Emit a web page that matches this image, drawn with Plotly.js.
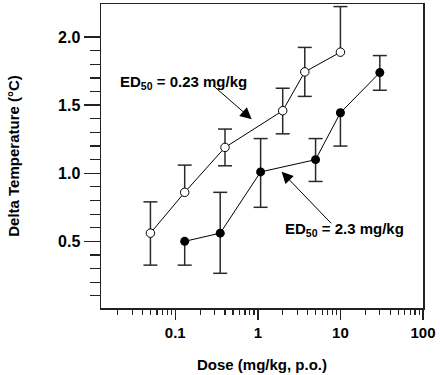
<!DOCTYPE html>
<html>
<head>
<meta charset="utf-8">
<script src="https://cdn.plot.ly/plotly-3.0.1.min.js"></script>
<style>html,body{margin:0;padding:0;background:#fff;}#chart{width:440px;height:375px;}</style>
</head>
<body>
<div id="chart"></div>
<script>
// Open circles (ED50 = 0.23 mg/kg)
var openDose = [0.05, 0.13, 0.4, 2, 3.7, 10];
var openDelta = [0.56, 0.86, 1.19, 1.46, 1.745, 1.89];
var openErrUp = [0.23, 0.20, 0.135, 0.165, 0.18, 0.335];
var openErrDown = [0.235, 0, 0.135, 0.17, 0.18, 0];

// Filled circles (ED50 = 2.3 mg/kg)
var filledDose = [0.13, 0.35, 1.08, 5, 10, 30];
var filledDelta = [0.50, 0.56, 1.01, 1.10, 1.445, 1.74];
var filledErrUp = [0, 0.30, 0.245, 0.155, 0, 0.125];
var filledErrDown = [0.175, 0.295, 0.26, 0.16, 0.245, 0.13];

// Tick labels
var xTickVals = [0.1, 1, 10, 100];
var xTickText = ['0.1', '1', '10', '100'];
var yTickVals = [0.5, 1.0, 1.5, 2.0];
var yTickText = ['0.5', '1.0', '1.5', '2.0'];

var label1 = 'ED<sub>50</sub> = 0.23 mg/kg';
var label2 = 'ED<sub>50</sub> = 2.3 mg/kg';

// minor ticks
var xMinor = [];
[0.01, 0.1, 1, 10].forEach(function (d) {
  for (var k = 2; k <= 9; k++) xMinor.push(+(d * k).toPrecision(3));
});
var yMinor = [];
for (var i = 1; i <= 19; i++) { if (i % 5 !== 0) yMinor.push(i / 10); }

var barColor = '#2a2a2a';
var font = 'Liberation Sans, Arial, Helvetica, sans-serif';

function capsTrace(xs, ys, up, down) {
  var cx = [], cy = [];
  for (var i = 0; i < xs.length; i++) {
    if (up[i] > 0) { cx.push(xs[i]); cy.push(ys[i] + up[i]); }
    if (down[i] > 0) { cx.push(xs[i]); cy.push(ys[i] - down[i]); }
  }
  return {
    x: cx, y: cy, type: 'scatter', mode: 'markers', hoverinfo: 'skip',
    marker: { symbol: 'line-ew', size: 10, line: { width: 1.5, color: barColor } }
  };
}

var traces = [
  capsTrace(openDose, openDelta, openErrUp, openErrDown),
  capsTrace(filledDose, filledDelta, filledErrUp, filledErrDown),
  {
    x: openDose, y: openDelta, type: 'scatter', mode: 'lines+markers',
    line: { color: '#000', width: 1 },
    marker: { symbol: 'circle', size: 8.5, color: '#fff', line: { color: '#000', width: 1 } },
    error_y: { type: 'data', symmetric: false, array: openErrUp, arrayminus: openErrDown,
      width: 0, thickness: 1.5, color: barColor }
  },
  {
    x: filledDose, y: filledDelta, type: 'scatter', mode: 'lines+markers',
    line: { color: '#000', width: 1 },
    marker: { symbol: 'circle', size: 9, color: '#000', line: { color: '#000', width: 0 } },
    error_y: { type: 'data', symmetric: false, array: filledErrUp, arrayminus: filledErrDown,
      width: 0, thickness: 1.5, color: barColor }
  }
];

var layout = {
  width: 440, height: 375,
  margin: { l: 101, r: 17, t: 4, b: 67 },
  paper_bgcolor: '#fff', plot_bgcolor: '#fff',
  showlegend: false,
  font: { family: font, size: 14, color: '#000' },
  xaxis: {
    type: 'log', range: [Math.log10(0.0126), 2],
    showgrid: false, zeroline: false,
    showline: true, linecolor: '#222', linewidth: 1.5, mirror: true,
    ticks: 'outside', ticklen: 10, tickwidth: 1.5, tickcolor: '#222',
    tickmode: 'array', tickvals: xTickVals, ticktext: xTickText,
    tickfont: { family: font, size: 15, color: '#000', weight: 'bold' },
    minor: { tickmode: 'array', tickvals: xMinor, ticks: 'outside', ticklen: 5, tickwidth: 1.2, tickcolor: '#222', showgrid: false },
    title: { text: '<b>Dose (mg/kg, p.o.)</b>', font: { family: font, size: 15, color: '#000' }, standoff: 20 }
  },
  yaxis: {
    range: [0.01, 2.244],
    showgrid: false, zeroline: false,
    showline: true, linecolor: '#222', linewidth: 1.5, mirror: true,
    ticks: 'outside', ticklen: 16, tickwidth: 1.5, tickcolor: '#222',
    tickmode: 'array', tickvals: yTickVals, ticktext: yTickText,
    tickfont: { family: font, size: 16, color: '#000', weight: 'bold' },
    minor: { tickmode: 'array', tickvals: yMinor, ticks: 'outside', ticklen: 10, tickwidth: 1.2, tickcolor: '#222', showgrid: false },
    title: { text: '<b>Delta Temperature (°C)</b>', font: { family: font, size: 15, color: '#000' }, standoff: 35 }
  },
  annotations: [
    { xref: 'paper', yref: 'paper', x: 0.256, y: 0.743, text: '<b>' + label1 + '</b>', showarrow: false,
      font: { family: font, size: 15, color: '#000' }, xanchor: 'center', yanchor: 'middle' },
    { xref: 'paper', yref: 'paper', x: 0.755, y: 0.257, text: '<b>' + label2 + '</b>', showarrow: false,
      font: { family: font, size: 15, color: '#000' }, xanchor: 'center', yanchor: 'middle' },
    { xref: 'paper', yref: 'paper', x: 0.468, y: 0.621, text: '', showarrow: true,
      ax: -39, ay: -34, arrowhead: 2, arrowsize: 2.3, arrowwidth: 1, arrowcolor: '#000', standoff: 0, borderpad: 0 },
    { xref: 'paper', yref: 'paper', x: 0.561, y: 0.448, text: '', showarrow: true,
      ax: 50, ay: 52, arrowhead: 2, arrowsize: 2.3, arrowwidth: 1, arrowcolor: '#000', standoff: 0, borderpad: 0 }
  ]
};

Plotly.newPlot('chart', traces, layout, { staticPlot: true, displayModeBar: false });
</script>
</body>
</html>
